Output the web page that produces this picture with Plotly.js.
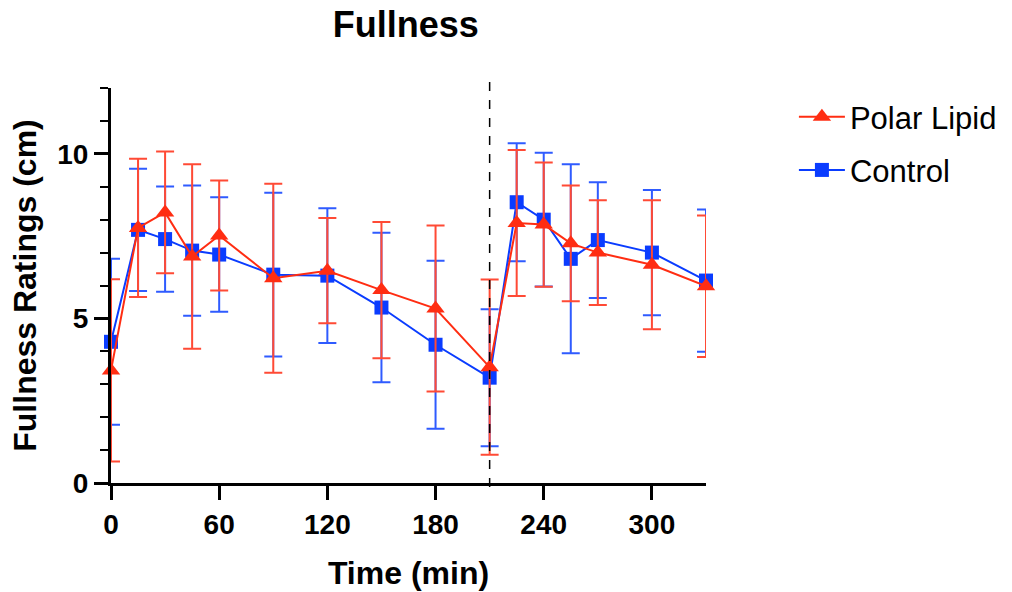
<!DOCTYPE html>
<html>
<head>
<meta charset="utf-8">
<script src="https://cdn.plot.ly/plotly-3.0.1.min.js"></script>
<style>html,body{margin:0;padding:0;background:#fff;}#chart{width:1012px;height:592px;}</style>
</head>
<body>
<div id="chart"></div>
<script>
const time = [0, 15, 30, 45, 60, 90, 120, 150, 180, 210, 225, 240, 255, 270, 300, 330];
const polarMean = [3.42, 7.75, 8.22, 6.88, 7.52, 6.22, 6.45, 5.86, 5.30, 3.52, 7.90, 7.85, 7.28, 7.00, 6.63, 5.98];
const polarSD   = [2.77, 2.10, 1.85, 2.80, 1.67, 2.87, 1.60, 2.07, 2.52, 2.66, 2.22, 1.89, 1.76, 1.59, 1.96, 2.15];
const controlMean = [4.29, 7.69, 7.41, 7.06, 6.94, 6.33, 6.30, 5.33, 4.20, 3.20, 8.53, 8.00, 6.81, 7.38, 7.00, 6.15];
const controlSD   = [2.52, 1.86, 1.60, 1.98, 1.74, 2.49, 2.05, 2.27, 2.55, 2.08, 1.79, 2.03, 2.87, 1.76, 1.90, 2.16];
const xTicks = [0, 60, 120, 180, 240, 300];
const yTicks = [0, 5, 10];
const mealTime = 210;

const red = '#FF2D12';
const blue = '#0A3CFF';
const FONT = 'Liberation Sans, Arial, Helvetica, sans-serif';

const traces = [
  {
    x: time, y: controlMean, name: 'Control', type: 'scatter', mode: 'lines+markers',
    legendgroup: 'c', legendrank: 2, cliponaxis: false,
    line: {color: blue, width: 2},
    marker: {symbol: 'square', size: 14, color: blue},
    error_y: {type: 'data', array: controlSD, visible: true, color: '#2F5BFF', thickness: 2, width: 9}
  },
  {
    x: time, y: polarMean, name: 'Polar Lipid', type: 'scatter', mode: 'lines+markers',
    legendgroup: 'p', legendrank: 1, cliponaxis: false,
    line: {color: red, width: 2},
    marker: {symbol: 'triangle-up', size: 16, color: red},
    error_y: {type: 'data', array: polarSD, visible: true, color: '#FF4A35', thickness: 2, width: 9}
  }
];

const layout = {
  width: 1012, height: 592,
  margin: {l: 111, r: 306, t: 88, b: 109, autoexpand: false},
  paper_bgcolor: '#fff', plot_bgcolor: '#fff',
  font: {family: FONT, color: '#000'},
  title: {text: '<b>Fullness</b>', font: {size: 36, color: '#000', family: FONT}, x: 0.401, xanchor: 'center', y: 0.958, yanchor: 'middle'},
  showlegend: true,
  legend: {xref: 'container', x: 0.7845, xanchor: 'left', y: 0.995, yanchor: 'top', traceorder: 'grouped', tracegroupgap: 10,
           font: {size: 31, color: '#000', family: FONT}, itemwidth: 46, bgcolor: 'rgba(0,0,0,0)'},
  xaxis: {
    range: [0, 330], tickvals: xTicks, ticktext: xTicks.map(String),
    showgrid: false, zeroline: false, showline: true, linecolor: '#000', linewidth: 3,
    ticks: 'outside', ticklen: 14, tickwidth: 3, tickcolor: '#000',
    tickfont: {size: 28, color: '#000', family: FONT, weight: 'bold'},
    title: {text: '<b>Time (min)</b>', font: {size: 32, color: '#000', family: FONT}, standoff: 24}
  },
  yaxis: {
    range: [0, 12], tickvals: yTicks, ticktext: yTicks.map(String),
    showgrid: false, zeroline: false, showline: true, linecolor: '#000', linewidth: 3,
    ticks: 'outside', ticklen: 14, tickwidth: 3, tickcolor: '#000',
    minor: {dtick: 1, ticks: 'outside', ticklen: 8, tickwidth: 2, tickcolor: '#000', showgrid: false},
    tickfont: {size: 28, color: '#000', family: FONT, weight: 'bold'},
    title: {text: '<b>Fullness Ratings (cm)</b>', font: {size: 32, color: '#000', family: FONT}, standoff: 12}
  },
  shapes: [{
    type: 'line', xref: 'x', yref: 'paper', x0: mealTime, x1: mealTime, y0: -0.01, y1: 1.03,
    line: {color: '#000', width: 1.5, dash: 'dash'}
  }]
};

Plotly.newPlot('chart', traces, layout, {displayModeBar: false, staticPlot: true});
</script>
</body>
</html>
